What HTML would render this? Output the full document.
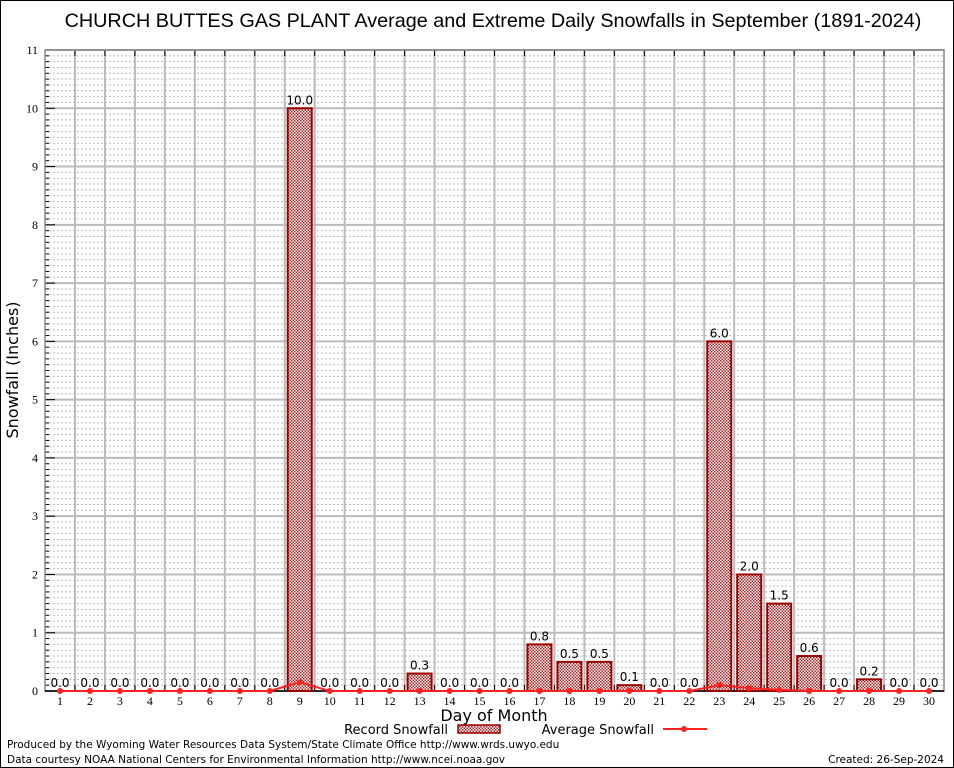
<!DOCTYPE html>
<html><head><meta charset="utf-8"><style>
body{margin:0;background:#fff;}
svg{display:block;font-family:"DejaVu Sans","Liberation Sans",sans-serif;}
</style></head><body>
<svg id="c" width="954" height="768">
<defs><pattern id="hatch" width="3" height="3" patternUnits="userSpaceOnUse"><rect width="3" height="3" fill="#fff"/><rect width="1.5" height="1.5" fill="#b02020"/><rect x="1.5" y="1.5" width="1.5" height="1.5" fill="#b02020"/></pattern></defs>
<rect x="0.5" y="0.5" width="953" height="767" fill="#fff" stroke="#000"/>
<text x="493" y="27" font-size="19.8" text-anchor="middle" font-family="Liberation Sans,sans-serif">CHURCH BUTTES GAS PLANT Average and Extreme Daily Snowfalls in September (1891-2024)</text>
<g id="grid"></g><g id="marks"></g>
<text x="18" y="370" font-size="16" text-anchor="middle" transform="rotate(-90 18 370)">Snowfall (Inches)</text>
<text x="494" y="721" font-size="16" text-anchor="middle">Day of Month</text>
<g>
<text x="448" y="734" font-size="13" text-anchor="end">Record Snowfall</text>
<rect x="458" y="725" width="42" height="8" fill="url(#hatch)" stroke="#900" stroke-width="1.5"/>
<text x="654" y="734" font-size="13" text-anchor="end">Average Snowfall</text>
<line x1="663" y1="729" x2="707" y2="729" stroke="#f22" stroke-width="2"/>
<circle cx="684" cy="729" r="3" fill="#f22"/>
</g>
<text x="7" y="748" font-size="10.5">Produced by the Wyoming Water Resources Data System/State Climate Office http://www.wrds.uwyo.edu</text>
<text x="7" y="763" font-size="10.5">Data courtesy NOAA National Centers for Environmental Information http://www.ncei.noaa.gov</text>
<text x="944" y="763" font-size="10.5" text-anchor="end">Created: 26-Sep-2024</text>
</svg>
<script>
const days=[1,2,3,4,5,6,7,8,9,10,11,12,13,14,15,16,17,18,19,20,21,22,23,24,25,26,27,28,29,30];
const recordValues=[0,0,0,0,0,0,0,0,10.0,0,0,0,0.3,0,0,0,0.8,0.5,0.5,0.1,0,0,6.0,2.0,1.5,0.6,0,0.2,0,0];
const averageValues=[0,0,0,0,0,0,0,0,0.15,0,0,0,0,0,0,0,0,0,0,0,0,0,0.1,0.05,0.02,0,0,0,0,0];
const yTicks=[0,1,2,3,4,5,6,7,8,9,10,11];
const L=45,R=944,T=50,B=691,yMax=11;
const x=d=>60+(d-1)*(929-60)/29;
const y=v=>B-v*(B-T)/yMax;
const NS="http://www.w3.org/2000/svg";
function mk(p,tag,a){const e=document.createElementNS(NS,tag);for(const k in a)e.setAttribute(k,a[k]);p.appendChild(e);return e;}
const g=document.getElementById('grid'),m=document.getElementById('marks');
for(let i=0;i<=110;i++){if(i%10===0)continue;const yy=y(i/10);
 const ln=mk(g,'line',{x1:L,x2:R,y1:yy,y2:yy,stroke:'#bbb','stroke-dasharray':'2,2','stroke-width':1});
 
 mk(g,'line',{x1:L,x2:L+4,y1:yy,y2:yy,stroke:'#000'});}
yTicks.forEach(v=>{const yy=y(v);
 const ln=mk(g,'line',{x1:L,x2:R,y1:yy,y2:yy,stroke:'#bbb','stroke-width':2});
 
 mk(g,'line',{x1:L,x2:L+10,y1:yy,y2:yy,stroke:'#000'});
 const t=mk(g,'text',{x:38,y:yy+4,'font-size':12,'text-anchor':'end','font-family':'Liberation Serif,serif'});t.textContent=v;
 });
for(let d=1;d<30;d++){const xx=x(d+0.5);
 const ln=mk(g,'line',{x1:xx,x2:xx,y1:T,y2:B,stroke:'#bbb','stroke-width':2});
 
 mk(g,'line',{x1:xx,x2:xx,y1:T,y2:T+6,stroke:'#000'});mk(g,'line',{x1:xx,x2:xx,y1:B,y2:B-6,stroke:'#000'});}
const fr=mk(g,'rect',{x:L,y:T,width:R-L,height:B-T,fill:'none',stroke:'#888','stroke-width':1.5});

mk(m,'line',{x1:L,x2:R,y1:B,y2:B,stroke:'#000','stroke-width':1.5});
days.forEach((d,i)=>{const v=recordValues[i],xx=x(d);
 if(v>0){const b=mk(m,'rect',{x:xx-12,y:y(v),width:24,height:B-y(v),fill:'url(#hatch)',stroke:'#900','stroke-width':2});
  }
 const t=mk(m,'text',{x:xx,y:y(v)-4,'font-size':12,'text-anchor':'middle'});t.textContent=v.toFixed(1);
 
 const xl=mk(m,'text',{x:xx,y:B+14,'font-size':12,'text-anchor':'middle','font-family':'Liberation Serif,serif'});xl.textContent=d;
 });
const pl=mk(m,'polyline',{points:days.map((d,i)=>x(d)+','+y(averageValues[i])).join(' '),fill:'none',stroke:'#f22','stroke-width':2});

days.forEach((d,i)=>{const c=mk(m,'circle',{cx:x(d),cy:y(averageValues[i]),r:3,fill:'#f22'});
 });
</script>
</body></html>
